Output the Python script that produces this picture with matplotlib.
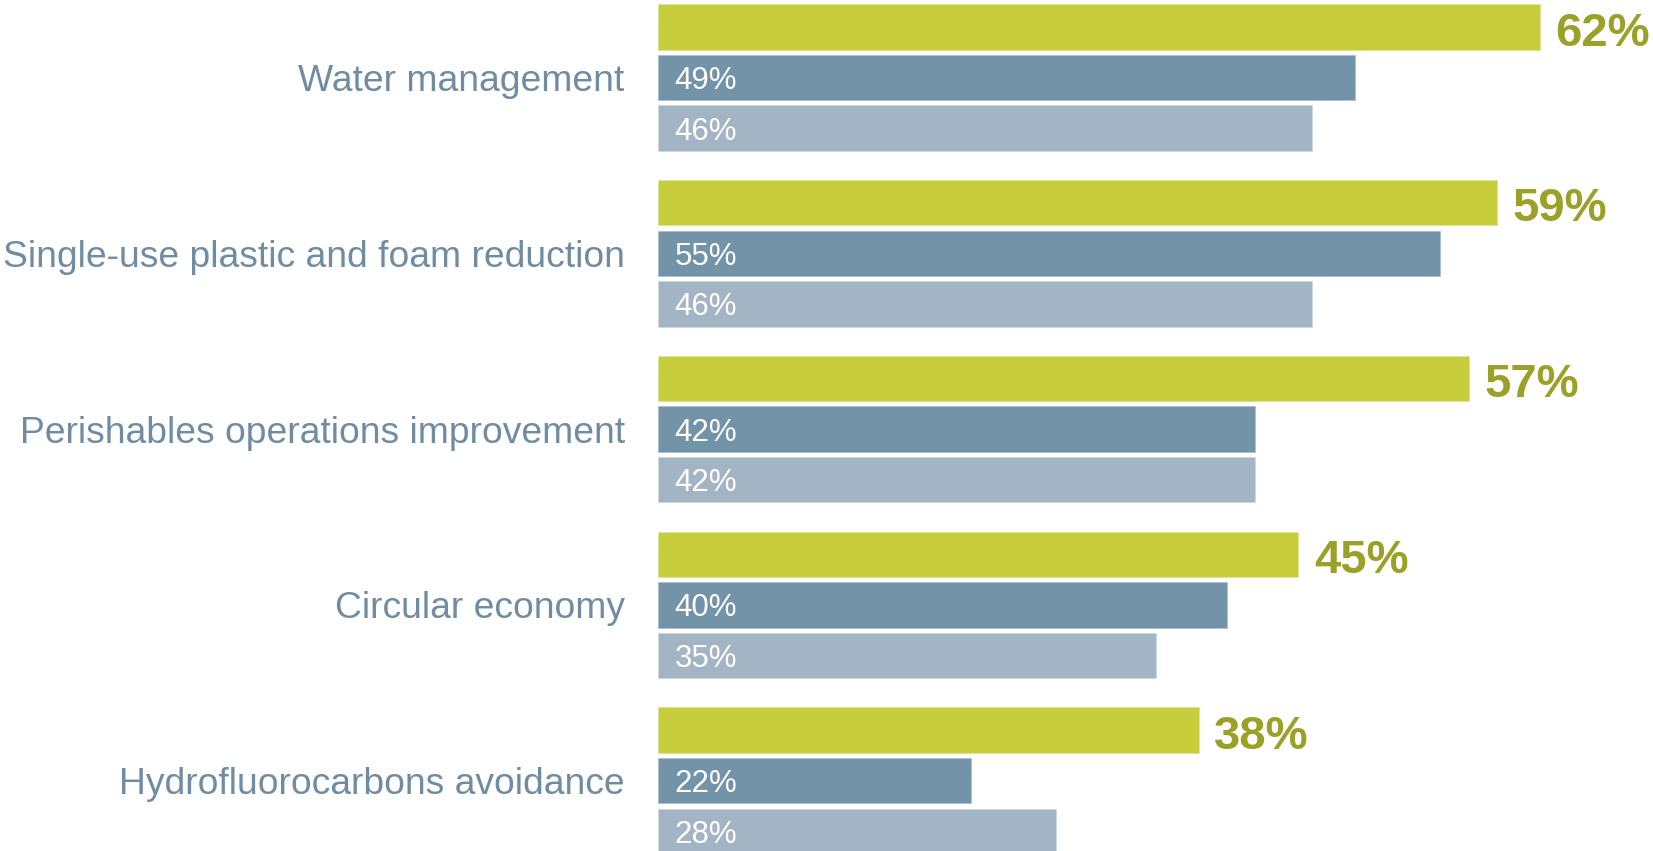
import matplotlib.pyplot as plt
import numpy as np

plt.rcParams['font.family'] = ['Liberation Sans', 'DejaVu Sans']

categories = ['Water management', 'Single-use plastic and foam reduction',
              'Perishables operations improvement', 'Circular economy',
              'Hydrofluorocarbons avoidance']
series_top = [62, 59, 57, 45, 38]
series_mid = [49, 55, 42, 40, 22]
series_low = [46, 46, 42, 35, 28]

green = '#c8cd3b'
blue = '#7393a9'
light = '#a3b5c5'
green_text = '#9ba127'
label_col = '#6f8ca3'

W, H = 1653, 851
px_per_pct = 14.226
left_px = 658
fig = plt.figure(figsize=(W / 100, H / 100), dpi=100)
ax = fig.add_axes([left_px / W, 0, 1 - left_px / W, 1])

group_px = 175.8
step = 50.6 / group_px
height = 45.3 / group_px
y = np.arange(len(categories))

ax.barh(y - step, series_top, height=height, color=green, edgecolor='#dfe29a', linewidth=0.6)
ax.barh(y, series_mid, height=height, color=blue, edgecolor='#aebfcc', linewidth=0.6)
ax.barh(y + step, series_low, height=height, color=light, edgecolor='#cdd8e1', linewidth=0.6)

for i in range(len(categories)):
    ax.text(series_top[i] + 1.1, y[i] - step + 0.01, f'{series_top[i]}%', color=green_text,
            fontsize=34, fontweight='bold', va='center_baseline', ha='left')
    ax.text(1.15, y[i], f'{series_mid[i]}%', color='white', fontsize=22.5,
            va='center_baseline', ha='left')
    ax.text(1.15, y[i] + step, f'{series_low[i]}%', color='white', fontsize=22.5,
            va='center_baseline', ha='left')

ax.set_yticks(y, labels=categories)
ax.tick_params(axis='y', length=0, pad=24, labelsize=26.8, labelcolor=label_col)
ax.set_xticks([])
ax.set_xlim(0, (W - left_px) / px_per_pct)
ax.set_ylim((H - 77.5) / group_px, -77.5 / group_px)
for s in ax.spines.values():
    s.set_visible(False)

fig.savefig('out.png', dpi=100)
